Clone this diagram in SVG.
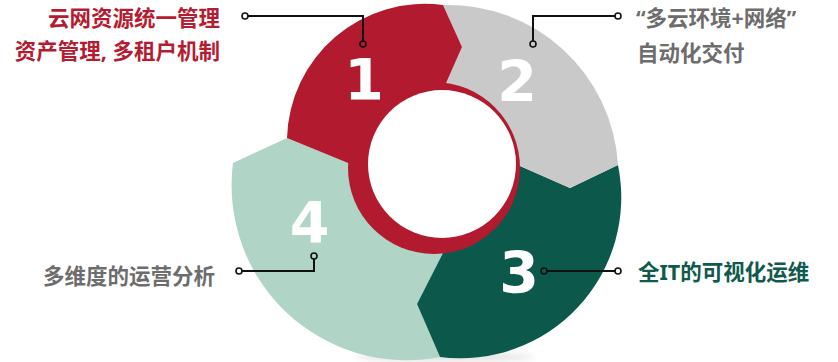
<svg xmlns="http://www.w3.org/2000/svg" width="838" height="362" viewBox="0 0 838 362">
<style>
.num{font-family:"DejaVu Sans",sans-serif;font-weight:bold;font-size:57px;fill:#fff;text-anchor:middle}
.lbl{font-family:"Noto Sans","Noto Sans CJK SC",sans-serif;font-weight:bold;font-size:21.5px}
.red{fill:#b41c32}.gry{fill:#6d6d6d}.grn{fill:#0f5a4d}
.ln{fill:none;stroke:#111;stroke-width:2}
.dot{fill:none;stroke:#111;stroke-width:1.6}
</style>
<defs>
<filter id="blur" x="-20%" y="-200%" width="140%" height="500%"><feGaussianBlur stdDeviation="3"/></filter>
</defs>
<ellipse cx="445" cy="357" rx="90" ry="4" fill="#000" opacity="0.12" filter="url(#blur)"/>
<g id="node4">
<path d="M233,163 L287,138 L348,163 L434,168 L443,253 L417,304 L440,357 A175,175 0 0 1 233,163 Z" fill="#b0d4c5"/>
</g>
<g id="node3">
<path d="M618,165 A161,161 0 0 1 440,357 L417,304 L443,253 L434,168 L520,166 L570,188 Z" fill="#0c584b"/>
</g>
<g id="node2">
<path d="M443,5 A170,170 0 0 1 618,165 L570,188 L520,166 L441,166 L443,90 L462,47 Z" fill="#c9c9c9"/>
</g>
<g id="node1">
<path d="M443,5 A138,138 0 0 0 287,138 L348,163 L434,168 L443,90 L462,47 Z" fill="#b21a2f"/>
<circle cx="434" cy="168" r="86" fill="#b21a2f"/>
<circle cx="442" cy="164" r="74" fill="#fff"/>
<text class="num" x="364" y="100">1</text>
<text class="lbl red" x="220" y="25.5" text-anchor="end">云网资源统一管理</text>
<text class="lbl red" x="220" y="59" text-anchor="end">资产管理, 多租户机制</text>
</g>
<g id="node2-text">
<text class="num" x="517" y="102">2</text>
<text class="lbl gry" x="636" y="26">“多云环境+网络”</text>
<text class="lbl gry" x="637" y="61">自动化交付</text>
</g>
<g id="node3-text">
<text class="num" x="519" y="293">3</text>
<text class="lbl grn" x="638" y="280">全IT的可视化运维</text>
</g>
<g id="node4-text">
<text class="num" x="309.5" y="243">4</text>
<text class="lbl gry" x="215" y="283.5" text-anchor="end">多维度的运营分析</text>
</g>
<g id="connectors">
<path class="ln" d="M248,16 H363 V41"/>
<circle class="dot" cx="245" cy="16" r="3"/>
<circle class="dot" cx="363" cy="44" r="3"/>
<path class="ln" d="M615,16 H533 V41"/>
<circle class="dot" cx="618" cy="16" r="3"/>
<circle class="dot" cx="533" cy="44" r="3"/>
<path class="ln" d="M547,271 H615"/>
<circle class="dot" cx="544" cy="271" r="3"/>
<circle class="dot" cx="618" cy="271" r="3"/>
<path class="ln" d="M242,271 H314 V259"/>
<circle class="dot" cx="239" cy="271" r="3"/>
<circle class="dot" cx="314" cy="256" r="3"/>
</g>
</svg>
